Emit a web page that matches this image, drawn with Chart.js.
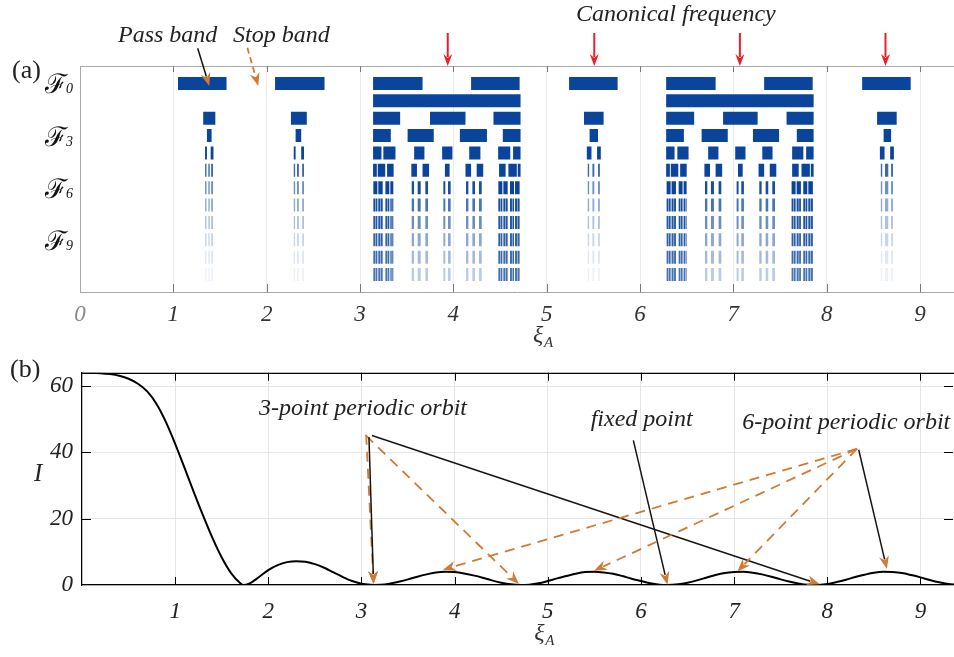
<!DOCTYPE html>
<html><head><meta charset="utf-8">
<script src="https://cdn.jsdelivr.net/npm/chart.js@4.4.1/dist/chart.umd.min.js"></script>
<style>
html,body{margin:0;padding:0;background:#fff;}
#wrap{position:relative;width:954px;height:657px;overflow:hidden;background:#fff;}
#c1{position:absolute;left:0;top:0;width:954px;height:350px;}
#c2{position:absolute;left:0;top:350px;width:954px;height:307px;}
</style></head><body>
<div id="wrap"><canvas id="c1" width="954" height="350"></canvas><canvas id="c2" width="954" height="307"></canvas></div>
<script>
// ---------- DATA: panel (a) band structure, [start, end] in xi_A ----------
const xiTicks = [0,1,2,3,4,5,6,7,8,9];
const rowTicks = [0,3,6,9];
const rowTickSubs = ['0','3','6','9'];

const bandsF0 = [[1.05,1.57],[2.09,2.62],[3.14,3.67],[4.19,4.71],[5.24,5.76],[6.28,6.81],[7.33,7.85],[8.38,8.90]];
const bandsF1 = [[3.14,4.72],[6.28,7.86]];
const bandsF2 = [[1.32,1.45],[2.26,2.43],[3.14,3.43],[3.75,4.13],[4.43,4.72],[5.40,5.61],[6.28,6.58],[6.89,7.26],[7.57,7.86],[8.54,8.75]];
const bandsF3 = [[1.36,1.41],[2.31,2.37],[3.14,3.33],[3.51,3.79],[4.07,4.36],[4.53,4.72],[5.46,5.55],[6.28,6.47],[6.66,6.94],[7.21,7.49],[7.68,7.86],[8.61,8.69]];
const bandsF4 = [[1.34,1.36],[1.40,1.43],[2.29,2.31],[2.37,2.40],[3.14,3.23],[3.25,3.38],[3.58,3.69],[3.88,3.99],[4.17,4.29],[4.48,4.61],[4.64,4.72],[5.43,5.48],[5.54,5.58],[6.28,6.37],[6.40,6.52],[6.73,6.84],[7.02,7.13],[7.31,7.42],[7.63,7.75],[7.78,7.86],[8.57,8.62],[8.68,8.72]];
const bandsF5 = [[3.14,3.18],[3.19,3.27],[3.29,3.36],[3.55,3.61],[3.67,3.74],[3.91,3.96],[4.13,4.19],[4.25,4.32],[4.49,4.56],[4.59,4.68],[4.69,4.72],[6.28,6.32],[6.33,6.41],[6.43,6.50],[6.69,6.75],[6.81,6.88],[7.05,7.10],[7.27,7.33],[7.39,7.46],[7.63,7.70],[7.73,7.82],[7.83,7.86]];
const smallBands = [[1.34,1.355],[1.375,1.39],[1.405,1.425],[2.29,2.305],[2.325,2.345],[2.38,2.40],[5.44,5.455],[5.49,5.51],[5.55,5.57],[8.58,8.595],[8.625,8.66],[8.69,8.71]];
const outerBandsF6 = [[3.143,3.186],[3.196,3.243],[3.272,3.314],[3.325,3.357],[4.482,4.525],[4.536,4.582],[4.607,4.65],[4.661,4.71],[6.285,6.328],[6.338,6.385],[6.414,6.456],[6.467,6.499],[7.624,7.667],[7.678,7.724],[7.749,7.792],[7.803,7.852]];
const innerBands = [[3.554,3.579],[3.618,3.65],[3.70,3.729],[3.893,3.914],[3.943,3.971],[4.136,4.161],[4.204,4.232],[4.275,4.304],[6.696,6.721],[6.760,6.792],[6.842,6.871],[7.035,7.056],[7.085,7.113],[7.278,7.303],[7.346,7.374],[7.417,7.446]];
const outerBandsFine = [[3.143,3.162],[3.167,3.186],[3.196,3.218],[3.223,3.243],[3.272,3.292],[3.297,3.314],[3.325,3.34],[3.345,3.357],[4.482,4.502],[4.507,4.525],[4.536,4.558],[4.563,4.582],[4.607,4.628],[4.633,4.65],[4.661,4.684],[4.689,4.71],[6.285,6.304],[6.309,6.328],[6.338,6.36],[6.365,6.385],[6.414,6.434],[6.439,6.456],[6.467,6.482],[6.487,6.499],[7.624,7.644],[7.649,7.667],[7.678,7.70],[7.705,7.724],[7.749,7.77],[7.775,7.792],[7.803,7.826],[7.831,7.852]];

// ---------- DATA: panel (b) invariant I(xi_A) ----------
const xiValues = [0,0.1,0.2,0.3,0.4,0.5,0.6,0.7,0.8,0.9,1.0,1.1,1.2,1.3,1.4,1.5,1.6,1.7,1.73,1.8,1.9,2.0,2.1,2.2,2.3,2.4,2.5,2.6,2.7,2.8,2.9,3.0,3.1,3.14,3.2,3.3,3.4,3.5,3.6,3.7,3.8,3.9,4.0,4.1,4.2,4.3,4.4,4.5,4.6,4.71,4.8,4.9,5.0,5.1,5.2,5.3,5.4,5.5,5.6,5.7,5.8,5.9,6.0,6.1,6.2,6.28,6.4,6.5,6.6,6.7,6.8,6.9,7.0,7.1,7.2,7.3,7.4,7.5,7.6,7.7,7.8,7.85,7.9,8.0,8.1,8.2,8.3,8.4,8.5,8.6,8.7,8.8,8.9,9.0,9.1,9.2,9.3,9.42];
const intensity = [64.0,64.0,63.9,63.6,63.1,62.2,60.7,58.4,54.6,49.2,42.6,35.4,28.0,20.9,14.2,8.3,3.6,0.5,0.0,0.5,2.4,4.5,6.0,6.9,7.2,7.0,6.3,5.2,3.8,2.4,1.2,0.4,0.05,0.0,0.05,0.4,1.0,1.7,2.5,3.2,3.8,4.0,3.9,3.5,2.9,2.2,1.4,0.7,0.2,0.0,0.1,0.5,1.2,2.0,2.7,3.4,3.9,4.0,3.8,3.4,2.7,1.9,1.2,0.5,0.1,0.0,0.2,0.7,1.4,2.2,3.0,3.6,3.9,4.0,3.7,3.2,2.5,1.7,1.0,0.4,0.05,0.0,0.03,0.3,0.9,1.6,2.4,3.1,3.7,4.0,3.9,3.6,3.0,2.3,1.5,0.8,0.3,0.0];
const iTicks = [0,20,40,60];

// ---------- STYLE ----------
const BLUE = [10,69,155];
const SERIF = "'Liberation Serif', 'DejaVu Serif', serif";
const ORANGE = '#cf7a35';
function blue(a){ return 'rgba(' + BLUE.join(',') + ',' + a + ')'; }

const layerRows = [0,1,2,3,4,5,5,6,6,6,7,7,7,8,8,8,9,9,9,10,10,10,11,11,11];
const layerBars = [bandsF0,bandsF1,bandsF2,bandsF3,bandsF4,bandsF5,smallBands,
  outerBandsF6,innerBands,smallBands,
  outerBandsFine,innerBands,smallBands,
  outerBandsFine,innerBands,smallBands,
  outerBandsFine,innerBands,smallBands,
  outerBandsFine,innerBands,smallBands,
  outerBandsFine,innerBands,smallBands];
const layerAlpha = [1,1,1,1,1,1,0.8, 1,0.95,0.6, 0.95,0.75,0.45, 0.9,0.6,0.33, 0.85,0.47,0.22, 0.8,0.37,0.13, 0.75,0.28,0.07];

function toPoints(bars,row){
  const pts=[];
  bars.forEach(b=>{ pts.push({x:b[0],y:row},{x:b[1],y:row},{x:b[1],y:null}); });
  return pts;
}
const bandDatasets = layerBars.map((bars,i)=>({
  data: toPoints(bars, layerRows[i]),
  showLine:true, pointRadius:0, borderWidth:13, borderCapStyle:'butt',
  borderColor: blue(layerAlpha[i]), spanGaps:false, tension:0
}));

function arrow(ctx,x1,y1,x2,y2,o){
  const dx=x2-x1, dy=y2-y1, len=Math.hypot(dx,dy), ux=dx/len, uy=dy/len, nx=-uy, ny=ux;
  const L=o.L||13, W=o.W||5;
  ctx.save();
  ctx.strokeStyle=o.color; ctx.lineWidth=o.width||1.5;
  ctx.setLineDash(o.dash||[]);
  ctx.beginPath(); ctx.moveTo(x1,y1); ctx.lineTo(x2-ux*(L-3),y2-uy*(L-3)); ctx.stroke();
  ctx.setLineDash([]);
  ctx.fillStyle=o.head||o.color;
  ctx.beginPath();
  ctx.moveTo(x2,y2);
  ctx.lineTo(x2-ux*L+nx*W, y2-uy*L+ny*W);
  ctx.lineTo(x2-ux*(L-4), y2-uy*(L-4));
  ctx.lineTo(x2-ux*L-nx*W, y2-uy*L-ny*W);
  ctx.closePath(); ctx.fill();
  ctx.restore();
}
function xiLabel(ctx,x,y){
  ctx.save(); ctx.fillStyle='#333';
  ctx.font='italic 24px '+SERIF; ctx.textBaseline='alphabetic'; ctx.textAlign='left';
  ctx.fillText('\u03BE',x-9,y);
  ctx.font='italic 15px '+SERIF; ctx.fillText('A',x+2,y+5);
  ctx.restore();
}

// ---------- PANEL (a) ----------
const plugA = {
  id:'plugA',
  afterDraw(chart){
    const ctx=chart.ctx, a=chart.chartArea, xs=chart.scales.x, ys=chart.scales.y;
    ctx.save();
    ctx.strokeStyle='#a8a8a8'; ctx.lineWidth=1;
    ctx.beginPath(); ctx.moveTo(a.left,a.top+0.5); ctx.lineTo(a.right,a.top+0.5); ctx.stroke();
    ctx.strokeStyle='#7a7a7a';
    xiTicks.forEach(v=>{ if(v===0) return; const p=Math.round(xs.getPixelForValue(v))+0.5;
      ctx.beginPath(); ctx.moveTo(p,a.top); ctx.lineTo(p,a.top+6); ctx.moveTo(p,a.bottom); ctx.lineTo(p,a.bottom-8); ctx.stroke(); });
    ctx.restore();
    // row labels F_n
    ctx.save(); ctx.fillStyle='#111'; ctx.textBaseline='alphabetic';
    rowTicks.forEach((r,i)=>{
      const y=ys.getPixelForValue(r);
      ctx.font="27px 'DejaVu Serif', serif"; ctx.textAlign='right';
      ctx.fillText('\u2131',67,y+10);
      ctx.font='italic 14px '+SERIF; ctx.textAlign='left';
      ctx.fillText(rowTickSubs[i],66,y+10);
    });
    ctx.restore();
    // texts
    ctx.save(); ctx.fillStyle='#222'; ctx.textBaseline='alphabetic';
    ctx.font='26px '+SERIF; ctx.fillText('(a)',12,78);
    ctx.font='italic 24px '+SERIF;
    ctx.fillText('Pass band',118,41.5);
    ctx.fillText('Stop band',233,41.5);
    ctx.fillText('Canonical frequency',576,20.7);
    ctx.restore();
    arrow(ctx, xs.getPixelForValue(1.261), ys.getPixelForValue(-2.02), xs.getPixelForValue(1.385), ys.getPixelForValue(0.15), {color:'#111', head:ORANGE, width:1.5});
    arrow(ctx, xs.getPixelForValue(1.793), ys.getPixelForValue(-2.05), xs.getPixelForValue(1.91), ys.getPixelForValue(0.15), {color:ORANGE, head:ORANGE, width:1.8, dash:[6,4]});
    [3.94,5.51,7.07,8.63].forEach(v=>{
      const p=xs.getPixelForValue(v);
      arrow(ctx,p,ys.getPixelForValue(-2.9),p,ys.getPixelForValue(-1.0),{color:'#e8202a',width:2,L:12,W:4.5});
    });
    xiLabel(ctx, xs.getPixelForValue(4.95), 342);
  }
};

new Chart(document.getElementById('c1'), {
  type:'scatter',
  data:{datasets:bandDatasets},
  options:{
    responsive:false, animation:false,
    layout:{padding:{top:66,left:0,right:0,bottom:0}},
    plugins:{legend:{display:false},tooltip:{enabled:false}},
    scales:{
      x:{type:'linear',min:0,max:9.364,
        afterBuildTicks(s){ s.ticks = xiTicks.map(v=>({value:v})); },
        afterFit(s){ s.height=58; },
        grid:{color:'#ebebeb',drawTicks:false},
        border:{color:'#a8a8a8'},
        ticks:{padding:9,font:{family:SERIF,size:23,style:'italic'},
          color:(c)=> c.tick && c.tick.value===0 ? '#8a8a8a' : '#333'}
      },
      y:{type:'linear',min:-1,max:12,reverse:true,
        afterBuildTicks(s){ s.ticks = rowTicks.map(v=>({value:v})); },
        afterFit(s){ s.width=80; },
        grid:{display:false,drawTicks:false},
        border:{color:'#a8a8a8'},
        ticks:{display:false}
      }
    }
  },
  plugins:[plugA]
});

// ---------- PANEL (b) ----------
const plugB = {
  id:'plugB',
  afterDraw(chart){
    const ctx=chart.ctx, a=chart.chartArea, xs=chart.scales.x, ys=chart.scales.y;
    ctx.save();
    ctx.strokeStyle='#000'; ctx.lineWidth=1.2;
    ctx.beginPath(); ctx.moveTo(a.left,a.top+0.5); ctx.lineTo(a.right,a.top+0.5); ctx.stroke();
    ctx.lineWidth=1;
    xiTicks.forEach(v=>{ if(v===0) return; const p=Math.round(xs.getPixelForValue(v))+0.5;
      ctx.beginPath(); ctx.moveTo(p,a.top); ctx.lineTo(p,a.top+8); ctx.moveTo(p,a.bottom); ctx.lineTo(p,a.bottom-8); ctx.stroke(); });
    iTicks.forEach(v=>{ if(v===0) return; const p=Math.round(ys.getPixelForValue(v))+0.5;
      ctx.beginPath(); ctx.moveTo(a.left,p); ctx.lineTo(a.left+9,p); ctx.moveTo(a.right-1,p); ctx.lineTo(a.right-10,p); ctx.stroke(); });
    ctx.restore();
    const X=v=>xs.getPixelForValue(v), Y=v=>ys.getPixelForValue(v);
    const blk={color:'#1a1410', head:ORANGE, width:1.5};
    const dsh={color:ORANGE, head:ORANGE, width:1.8, dash:[10,7]};
    // 3-point periodic orbit
    arrow(ctx,X(3.047),Y(45.1),X(4.69),Y(0.3),dsh);
    arrow(ctx,X(3.05),Y(45.3),X(3.13),Y(0.3),dsh);
    arrow(ctx,X(3.08),Y(44.6),X(3.13),Y(0.3),blk);
    arrow(ctx,X(3.112),Y(45.1),X(7.92),Y(0.2),blk);
    // fixed point
    arrow(ctx,X(5.918),Y(43.6),X(6.284),Y(0.1),blk);
    // 6-point periodic orbit
    arrow(ctx,X(8.32),Y(41.1),X(3.874),Y(4.6),dsh);
    arrow(ctx,X(8.32),Y(41.1),X(5.496),Y(4.3),dsh);
    arrow(ctx,X(8.32),Y(41.1),X(7.035),Y(4.1),dsh);
    arrow(ctx,X(8.337),Y(40.8),X(8.64),Y(4.8),blk);
    ctx.save(); ctx.fillStyle='#222'; ctx.textBaseline='alphabetic';
    ctx.font='26px '+SERIF; ctx.fillText('(b)',10,26.7);
    ctx.font='italic 24px '+SERIF;
    ctx.fillText('3-point periodic orbit',259,65);
    ctx.fillText('fixed point',590.7,76);
    ctx.fillText('6-point periodic orbit',742.3,79.3);
    ctx.font='italic 25px '+SERIF; ctx.fillText('I',34,131);
    ctx.restore();
    xiLabel(ctx, xs.getPixelForValue(4.95), 290);
  }
};

new Chart(document.getElementById('c2'), {
  type:'scatter',
  data:{datasets:[{
    data: xiValues.map((x,i)=>({x:x,y:intensity[i]})),
    showLine:true, pointRadius:0, borderWidth:2, borderColor:'#000',
    cubicInterpolationMode:'monotone'
  }]},
  options:{
    responsive:false, animation:false,
    layout:{padding:{top:12,left:0,right:0,bottom:0}},
    plugins:{legend:{display:false},tooltip:{enabled:false}},
    scales:{
      x:{type:'linear',min:0,max:9.36,
        afterBuildTicks(s){ s.ticks = xiTicks.map(v=>({value:v})); },
        afterFit(s){ s.height=72; },
        grid:{color:'#e6e6e6',drawTicks:false},
        border:{color:'#000',width:1.2},
        ticks:{padding:13,font:{family:SERIF,size:23,style:'italic'},color:'#222',
          callback:(v)=> v===0 ? '' : String(v)}
      },
      y:{type:'linear',min:0,max:64,
        afterBuildTicks(s){ s.ticks = iTicks.map(v=>({value:v})); },
        afterFit(s){ s.width=82; },
        grid:{color:'#e6e6e6',drawTicks:false},
        border:{color:'#000',width:1.2},
        ticks:{padding:9,font:{family:SERIF,size:23,style:'italic'},color:'#222'}
      }
    }
  },
  plugins:[plugB]
});
</script>
</body></html>
